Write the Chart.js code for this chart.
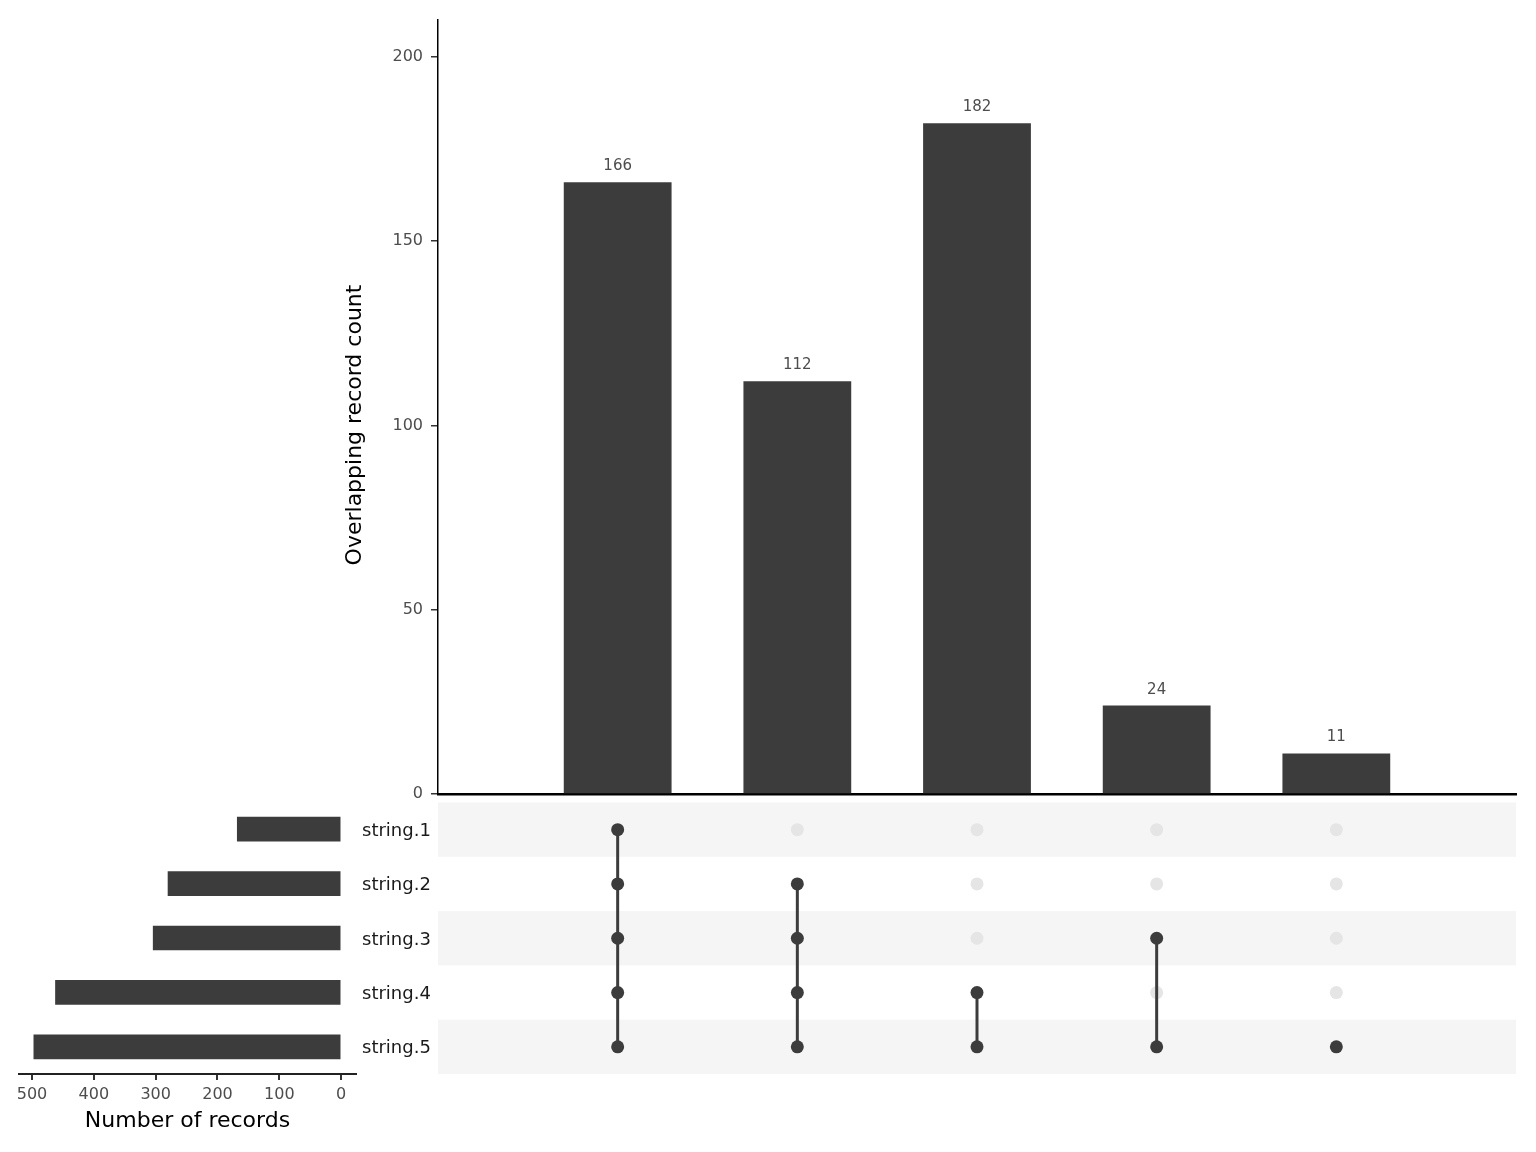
<!DOCTYPE html>
<html>
<head>
<meta charset="utf-8">
<script src="https://cdn.jsdelivr.net/npm/chart.js@4"></script>
<style>
    body { margin: 0; background: #fff; }
    #wrap { position: relative; width: 1536px; height: 1152px; }
    canvas { position: absolute; }
</style>
</head>
<body>
<div id="wrap">
    <canvas id="barChart" width="1536" height="800" style="left:0;top:0"></canvas>
    <canvas id="matrixChart" width="1536" height="300" style="left:0;top:796px"></canvas>
    <canvas id="setChart" width="438" height="356" style="left:0;top:796px"></canvas>
</div>
<script>
// data
const setNames = ['string.1', 'string.2', 'string.3', 'string.4', 'string.5'];
const setSizes = [168, 280, 304, 462, 497];
const intersectionCounts = [166, 112, 182, 24, 11];
// which sets (1-based, same order as setNames) belong to each intersection column
const intersectionMembers = [
    [1, 2, 3, 4, 5],
    [2, 3, 4, 5],
    [4, 5],
    [3, 5],
    [5]
];
const yTitle = 'Overlapping record count';
const xTitle = 'Number of records';

const dark = '#3c3c3c';
const inactive = '#e5e5e5';
const stripe = '#f5f5f5';

Chart.defaults.font.family = "'DejaVu Sans', sans-serif";
Chart.defaults.animation = false;
Chart.defaults.devicePixelRatio = 1;
Chart.defaults.plugins.legend.display = false;
Chart.defaults.plugins.tooltip.enabled = false;

// value labels above the bars + the y title (drawn by hand so it can sit a bit lower)
const barLabels = {
    id: 'barLabels',
    afterDatasetsDraw(chart) {
        const { ctx, chartArea } = chart;
        const meta = chart.getDatasetMeta(0);
        ctx.save();
        ctx.font = "15px 'DejaVu Sans'";
        ctx.fillStyle = '#4d4d4d';
        ctx.textAlign = 'center';
        ctx.textBaseline = 'alphabetic';
        meta.data.forEach((bar, i) => {
            ctx.fillText(String(intersectionCounts[i]), bar.x, bar.y - 12);
        });

        ctx.translate(chartArea.left - 83, (chartArea.top + chartArea.bottom) / 2 + 18);
        ctx.rotate(-Math.PI / 2);
        ctx.font = "22px 'DejaVu Sans'";
        ctx.fillStyle = '#000';
        ctx.textBaseline = 'middle';
        ctx.fillText(yTitle, 0, 0);
        ctx.restore();
    }
};

new Chart(document.getElementById('barChart'), {
    type: 'bar',
    data: {
        datasets: [{
            data: intersectionCounts.map((v, i) => ({ x: i + 1, y: v })),
            backgroundColor: dark,
            categoryPercentage: 1,
            barPercentage: 0.6
        }]
    },
    options: {
        responsive: false,
        layout: { padding: { left: 335, right: 20, top: 20, bottom: 6 } },
        scales: {
            x: {
                type: 'linear',
                offset: false,
                min: 0,
                max: 6,
                ticks: { display: false },
                grid: { display: false },
                border: { display: true, color: '#000', width: 2.5 },
                afterFit(scale) {
                    scale.height = 0;
                    scale.paddingLeft = 0;
                    scale.paddingRight = 0;
                }
            },
            y: {
                min: 0,
                max: 210,
                ticks: {
                    stepSize: 50,
                    includeBounds: false,
                    color: '#4d4d4d',
                    font: { size: 16 },
                    padding: 8
                },
                grid: { drawOnChartArea: false, tickLength: 7, color: '#333', lineWidth: 1.5 },
                border: { color: '#000', width: 1.5 },
                afterFit(scale) {
                    scale.width = 103;
                    scale.paddingTop = 0;
                    scale.paddingBottom = 0;
                }
            }
        }
    },
    plugins: [barLabels]
});

// matrix: stripes, inactive dots, connecting lines, active dots
const rowStripes = {
    id: 'rowStripes',
    beforeDatasetsDraw(chart) {
        const { ctx, chartArea, scales } = chart;
        ctx.save();
        ctx.fillStyle = stripe;
        setNames.forEach((name, i) => {
            const row = i + 1;
            if (row % 2 === 0) return;
            const y1 = scales.y.getPixelForValue(row - 0.5);
            const y2 = scales.y.getPixelForValue(row + 0.5);
            ctx.fillRect(chartArea.left, Math.min(y1, y2), chartArea.right - chartArea.left, Math.abs(y2 - y1));
        });
        ctx.restore();
    }
};

const activePoints = [];
const inactivePoints = [];
intersectionMembers.forEach((members, c) => {
    setNames.forEach((name, s) => {
        const p = { x: c + 1, y: s + 1 };
        if (members.includes(s + 1)) activePoints.push(p);
        else inactivePoints.push(p);
    });
});

const matrixDatasets = [{
    type: 'scatter',
    data: activePoints,
    pointRadius: 6.5,
    pointBackgroundColor: dark,
    pointBorderWidth: 0,
    order: 0
}, {
    type: 'scatter',
    data: inactivePoints,
    pointRadius: 6.5,
    pointBackgroundColor: inactive,
    pointBorderWidth: 0,
    order: 2
}];

intersectionMembers.forEach((members, c) => {
    if (members.length < 2) return;
    matrixDatasets.push({
        type: 'line',
        data: [
            { x: c + 1, y: Math.min(...members) },
            { x: c + 1, y: Math.max(...members) }
        ],
        borderColor: dark,
        borderWidth: 3,
        pointRadius: 0,
        order: 1
    });
});

new Chart(document.getElementById('matrixChart'), {
    type: 'scatter',
    data: { datasets: matrixDatasets },
    options: {
        responsive: false,
        layout: { padding: { left: 438, right: 20, top: 6, bottom: 22 } },
        scales: {
            x: { type: 'linear', min: 0, max: 6, display: false },
            y: { type: 'linear', min: 0.5, max: 5.5, reverse: true, display: false }
        }
    },
    plugins: [rowStripes]
});

// set sizes on the left
new Chart(document.getElementById('setChart'), {
    type: 'bar',
    data: {
        labels: setNames,
        datasets: [{
            data: setSizes,
            backgroundColor: dark,
            barThickness: 24
        }]
    },
    options: {
        responsive: false,
        indexAxis: 'y',
        layout: { padding: { left: 19, right: 0, top: 6, bottom: 0 } },
        scales: {
            x: {
                reverse: true,
                min: -24,
                max: 521,
                ticks: {
                    stepSize: 100,
                    includeBounds: false,
                    color: '#4d4d4d',
                    font: { size: 16 },
                    padding: 5
                },
                grid: { drawOnChartArea: false, tickLength: 6, color: '#333', lineWidth: 2 },
                border: { color: '#222', width: 2 },
                title: {
                    display: true,
                    text: xTitle,
                    color: '#000',
                    font: { size: 22 },
                    padding: { top: 0, bottom: 18 }
                },
                afterFit(scale) {
                    scale.height = 78;
                    scale.paddingLeft = 0;
                    scale.paddingRight = 0;
                }
            },
            y: {
                position: 'right',
                ticks: { color: '#1a1a1a', font: { size: 18 }, padding: 6, labelOffset: 2 },
                grid: { display: false, drawTicks: false },
                border: { display: false },
                afterFit(scale) {
                    scale.width = 82;
                    scale.paddingTop = 0;
                    scale.paddingBottom = 0;
                }
            }
        }
    }
});
</script>
</body>
</html>
